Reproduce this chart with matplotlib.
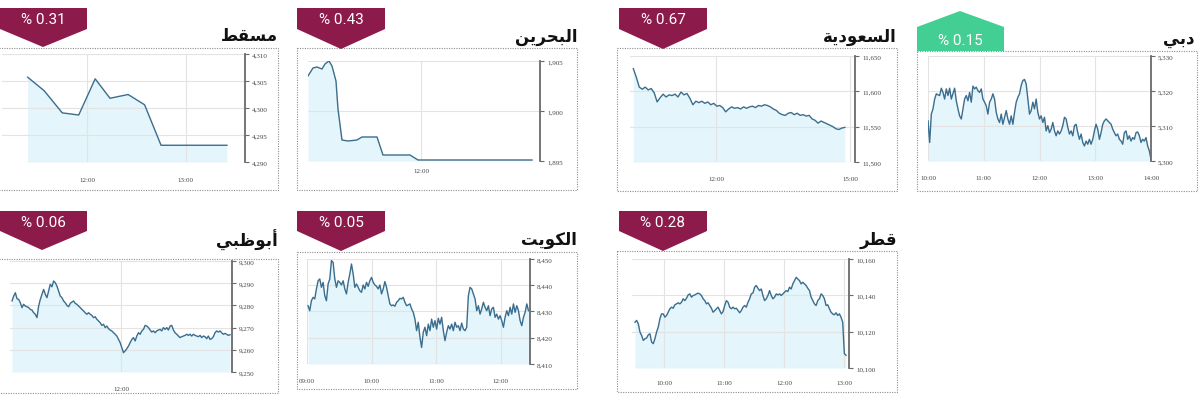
import numpy as np
import matplotlib.pyplot as plt
from matplotlib.patches import Polygon, Rectangle

W, H = 1200, 410

# ---------------- data ----------------
names = ["مسقط", "البحرين", "السعودية", "دبي", "أبوظبي", "الكويت", "قطر"]
changes = [0.31, 0.43, 0.67, 0.15, 0.06, 0.05, 0.28]
is_up = [False, False, False, True, False, False, False]

muscat_times = ["11:24", "11:34", "11:45", "11:55", "12:05", "12:14", "12:25", "12:35", "12:45", "13:25"]
muscat_vals = [4305.7, 4303.2, 4299.1, 4298.7, 4305.4, 4301.8, 4302.5, 4300.6, 4293.1, 4293.1]
muscat_yticks = [4290, 4295, 4300, 4305, 4310]
muscat_xticks = ["12:00", "13:00"]

bahrain_times = ["10:07", "10:12", "10:16", "10:21", "10:24", "10:28", "10:31", "10:35", "10:37",
                 "10:41", "10:47", "10:56", "11:01", "11:16", "11:22", "11:49", "11:57", "13:51"]
bahrain_vals = [1903.5, 1904.3, 1904.4, 1904.2, 1904.7, 1905.0, 1904.5, 1903.0, 1900.2,
                1897.1, 1897.0, 1897.1, 1897.4, 1897.4, 1895.6, 1895.6, 1895.1, 1895.1]
bahrain_yticks = [1895, 1900, 1905]
bahrain_xticks = ["12:00"]

# sampled evenly between first and last time
saudi_span = ("10:09", "14:53")
saudi_vals = [11632, 11620, 11606, 11603, 11606, 11602, 11604, 11598, 11585, 11591, 11596, 11592,
              11595, 11594, 11596, 11592, 11599, 11595, 11597, 11590, 11581, 11586, 11584, 11586,
              11583, 11585, 11581, 11583, 11579, 11580, 11577, 11571, 11575, 11578, 11576, 11577,
              11575, 11578, 11576, 11578, 11579, 11577, 11580, 11579, 11581, 11580, 11578, 11575,
              11573, 11569, 11567, 11566, 11569, 11570, 11567, 11569, 11566, 11567, 11565, 11566,
              11561, 11559, 11555, 11558, 11556, 11554, 11552, 11550, 11547, 11546, 11548, 11549]
saudi_yticks = [11500, 11550, 11600, 11650]
saudi_xticks = ["12:00", "15:00"]

dubai_span = ("10:00", "14:00")
dubai_vals = [5311.5, 5305.3, 5313.4, 5314.9, 5317.7, 5319.2, 5318.9, 5318.7, 5320.8, 5319.6,
              5317.7, 5320.6, 5318.7, 5320.8, 5317.7, 5319.2, 5320.8, 5317.2, 5314.9, 5312.9,
              5312.0, 5314.9, 5317.7, 5318.7, 5317.2, 5319.6, 5316.8, 5321.4, 5320.6, 5321.1,
              5320.1, 5319.6, 5320.6, 5317.7, 5316.8, 5315.8, 5313.4, 5316.8, 5317.7, 5319.2,
              5317.7, 5313.9, 5312.0, 5311.0, 5313.4, 5310.5, 5312.5, 5314.4, 5312.0, 5310.5,
              5312.9, 5310.5, 5313.9, 5316.8, 5318.2, 5319.2, 5321.6, 5323.0, 5323.3, 5322.0,
              5317.7, 5313.4, 5314.4, 5316.8, 5314.9, 5317.7, 5313.9, 5312.0, 5312.9, 5311.0,
              5312.5, 5308.6, 5310.1, 5308.1, 5309.1, 5311.0, 5308.6, 5307.2, 5308.6, 5307.7,
              5308.6, 5310.1, 5312.5, 5312.0, 5309.6, 5307.7, 5308.6, 5307.2, 5310.1, 5310.5,
              5308.1, 5306.2, 5307.7, 5305.3, 5304.3, 5305.7, 5304.8, 5306.2, 5304.8, 5306.2,
              5308.6, 5310.5, 5309.1, 5306.2, 5308.1, 5310.5, 5311.5, 5312.0, 5311.5, 5311.0,
              5310.5, 5309.1, 5308.1, 5307.2, 5307.7, 5306.2, 5305.7, 5304.8, 5308.1, 5308.6,
              5306.2, 5307.2, 5305.7, 5306.7, 5306.2, 5308.1, 5308.3, 5307.2, 5305.3, 5306.2,
              5305.7, 5306.7, 5304.3, 5302.9, 5300.5]
dubai_yticks = [5300, 5310, 5320, 5330]
dubai_xticks = ["10:00", "11:00", "12:00", "13:00", "14:00"]

abudhabi_span = ("10:00", "14:00")
abudhabi_vals = [9282.0, 9284.2, 9285.7, 9283.0, 9282.7, 9281.2, 9279.0, 9280.5, 9279.7, 9279.4,
                 9279.0, 9278.2, 9277.9, 9276.7, 9276.0, 9274.5, 9279.7, 9282.7, 9285.0, 9287.2,
                 9285.0, 9283.5, 9286.5, 9289.5, 9288.4, 9291.0, 9290.2, 9288.7, 9286.5, 9284.2,
                 9283.5, 9282.0, 9281.2, 9280.0, 9279.4, 9280.9, 9281.5, 9282.0, 9280.9, 9280.5,
                 9279.7, 9279.0, 9278.2, 9277.5, 9276.7, 9276.0, 9276.7, 9276.0, 9275.5, 9274.5,
                 9274.9, 9273.7, 9273.0, 9272.2, 9271.0, 9271.5, 9270.0, 9270.7, 9269.5, 9268.9,
                 9268.5, 9267.7, 9267.0, 9266.2, 9264.7, 9263.2, 9261.0, 9258.7, 9259.5, 9260.5,
                 9261.7, 9263.2, 9264.7, 9265.5, 9264.0, 9266.2, 9267.7, 9267.0, 9268.5, 9269.2,
                 9271.0, 9270.7, 9270.0, 9268.9, 9268.0, 9268.5, 9267.7, 9268.5, 9268.9, 9269.2,
                 9268.5, 9270.0, 9269.2, 9270.0, 9268.9, 9270.7, 9271.0, 9268.9, 9267.7, 9267.0,
                 9266.2, 9265.5, 9265.9, 9266.2, 9266.5, 9267.0, 9266.5, 9267.0, 9266.2, 9267.0,
                 9266.5, 9266.2, 9265.9, 9266.5, 9265.5, 9266.2, 9265.9, 9265.0, 9266.2, 9264.7,
                 9265.0, 9265.9, 9267.7, 9268.5, 9268.0, 9268.5, 9267.7, 9267.0, 9267.4, 9267.0,
                 9266.5, 9266.8]
abudhabi_yticks = [9250, 9260, 9270, 9280, 9290, 9300]
abudhabi_xticks = ["12:00"]

kuwait_span = ("09:01", "12:26")
kuwait_vals = [8432.2, 8430.3, 8434.1, 8435.4, 8434.8, 8438.6, 8441.7, 8442.4, 8439.2, 8441.1,
               8436.0, 8434.1, 8440.5, 8442.4, 8449.4, 8448.7, 8442.4, 8439.2, 8441.7, 8441.1,
               8440.1, 8441.7, 8438.6, 8436.7, 8441.1, 8444.3, 8448.1, 8444.3, 8439.2, 8440.5,
               8439.2, 8437.9, 8437.3, 8440.1, 8438.6, 8441.1, 8439.6, 8441.7, 8443.0, 8441.1,
               8440.1, 8439.6, 8438.6, 8440.1, 8436.7, 8438.6, 8441.4, 8439.2, 8436.0, 8432.9,
               8432.2, 8432.5, 8432.0, 8433.5, 8434.1, 8435.0, 8434.8, 8435.4, 8433.5, 8432.2,
               8432.5, 8432.9, 8431.0, 8429.7, 8427.1, 8422.7, 8425.9, 8420.2, 8416.3, 8422.1,
               8424.0, 8420.8, 8425.2, 8422.7, 8427.1, 8424.0, 8426.5, 8423.3, 8427.4, 8425.2,
               8427.8, 8422.7, 8418.9, 8422.1, 8424.6, 8423.3, 8425.2, 8422.7, 8425.9, 8424.0,
               8424.6, 8422.7, 8425.6, 8423.3, 8422.7, 8424.0, 8436.0, 8439.2, 8438.6, 8436.7,
               8434.8, 8430.3, 8432.2, 8429.0, 8431.0, 8433.5, 8431.6, 8430.3, 8432.2, 8428.4,
               8431.0, 8431.6, 8427.8, 8429.0, 8427.1, 8428.4, 8426.5, 8424.0, 8427.8, 8430.3,
               8428.4, 8431.6, 8429.0, 8432.9, 8429.7, 8432.2, 8430.3, 8426.5, 8424.6, 8427.8,
               8429.7, 8432.9, 8430.3]
kuwait_yticks = [8410, 8420, 8430, 8440, 8450]
kuwait_xticks = ["09:00", "10:00", "11:00", "12:00"]

qatar_span = ("09:31", "13:02")
qatar_vals = [10125.2, 10126.2, 10124.3, 10119.8, 10117.9, 10115.2, 10116.1, 10116.5, 10118.3, 10118.8,
              10114.3, 10113.4, 10116.1, 10119.8, 10122.5, 10127.1, 10129.8, 10129.8, 10128.0, 10128.9,
              10130.7, 10132.6, 10133.5, 10132.9, 10134.8, 10135.3, 10135.9, 10135.3, 10136.2, 10138.1,
              10137.1, 10138.4, 10140.2, 10140.8, 10139.0, 10139.9, 10140.2, 10140.8, 10141.2, 10140.8,
              10139.9, 10138.1, 10137.1, 10135.3, 10135.9, 10134.4, 10132.9, 10130.7, 10131.6, 10132.6,
              10133.5, 10131.6, 10129.8, 10131.1, 10134.4, 10137.1, 10136.2, 10133.5, 10132.6, 10133.5,
              10132.6, 10132.9, 10131.6, 10130.4, 10131.6, 10133.5, 10134.4, 10133.5, 10136.2, 10138.1,
              10140.8, 10141.3, 10144.5, 10145.4, 10143.9, 10142.6, 10143.5, 10139.9, 10137.1, 10138.1,
              10139.9, 10142.6, 10139.9, 10138.1, 10139.0, 10140.8, 10140.2, 10140.8, 10139.9, 10140.8,
              10141.7, 10142.6, 10142.1, 10144.5, 10143.5, 10146.3, 10148.1, 10149.9, 10149.0, 10148.1,
              10146.3, 10147.2, 10146.3, 10145.4, 10143.9, 10142.6, 10139.0, 10137.1, 10135.3, 10134.4,
              10137.1, 10138.1, 10140.8, 10139.9, 10138.1, 10134.4, 10134.8, 10132.6, 10130.7, 10129.8,
              10129.3, 10130.4, 10128.9, 10129.8, 10128.0, 10125.2, 10107.9, 10107.0]
qatar_yticks = [10100, 10120, 10140, 10160]
qatar_xticks = ["10:00", "11:00", "12:00", "13:00"]


def hours(s):
    h, m = s.split(":")
    return int(h) + int(m) / 60.0


def even_times(span, vals):
    return np.linspace(hours(span[0]), hours(span[1]), len(vals))


# letter: (isolated, final, initial, medial); no initial form => does not join the next letter
AR_FORMS = {
    "ا": ("\ufe8d", "\ufe8e", None, None),
    "أ": ("\ufe83", "\ufe84", None, None),
    "ب": ("\ufe8f", "\ufe90", "\ufe91", "\ufe92"),
    "ت": ("\ufe95", "\ufe96", "\ufe97", "\ufe98"),
    "ح": ("\ufea1", "\ufea2", "\ufea3", "\ufea4"),
    "د": ("\ufea9", "\ufeaa", None, None),
    "ر": ("\ufead", "\ufeae", None, None),
    "س": ("\ufeb1", "\ufeb2", "\ufeb3", "\ufeb4"),
    "ط": ("\ufec1", "\ufec2", "\ufec3", "\ufec4"),
    "ظ": ("\ufec5", "\ufec6", "\ufec7", "\ufec8"),
    "ع": ("\ufec9", "\ufeca", "\ufecb", "\ufecc"),
    "ق": ("\ufed5", "\ufed6", "\ufed7", "\ufed8"),
    "ك": ("\ufed9", "\ufeda", "\ufedb", "\ufedc"),
    "ل": ("\ufedd", "\ufede", "\ufedf", "\ufee0"),
    "م": ("\ufee1", "\ufee2", "\ufee3", "\ufee4"),
    "ن": ("\ufee5", "\ufee6", "\ufee7", "\ufee8"),
    "ة": ("\ufe93", "\ufe94", None, None),
    "و": ("\ufeed", "\ufeee", None, None),
    "ي": ("\ufef1", "\ufef2", "\ufef3", "\ufef4"),
}


def shape_ar(word):
    # matplotlib has no arabic shaping, so pick contextual forms and write in visual order
    out = []
    for i, ch in enumerate(word):
        iso, fin, ini, med = AR_FORMS[ch]
        prev_joins = i > 0 and AR_FORMS[word[i - 1]][2] is not None
        next_joins = i < len(word) - 1 and ini is not None
        if prev_joins and next_joins:
            out.append(med)
        elif prev_joins:
            out.append(fin)
        elif next_joins:
            out.append(ini)
        else:
            out.append(iso)
    return "".join(reversed(out))


# ---------------- layout (pixels) ----------------
series = [
    ([hours(t) for t in muscat_times], muscat_vals, muscat_yticks, muscat_xticks),
    ([hours(t) for t in bahrain_times], bahrain_vals, bahrain_yticks, bahrain_xticks),
    (even_times(saudi_span, saudi_vals), saudi_vals, saudi_yticks, saudi_xticks),
    (even_times(dubai_span, dubai_vals), dubai_vals, dubai_yticks, dubai_xticks),
    (even_times(abudhabi_span, abudhabi_vals), abudhabi_vals, abudhabi_yticks, abudhabi_xticks),
    (even_times(kuwait_span, kuwait_vals), kuwait_vals, kuwait_yticks, kuwait_xticks),
    (even_times(qatar_span, qatar_vals), qatar_vals, qatar_yticks, qatar_xticks),
]

# axes box (l, r, t, b), xlim, frame box (l, r, t, b), badge (l, r, top, shoulder, tip_x, tip_y), title (x, y), xlabel pad
layout = [
    dict(ax=(2, 245, 55, 163), xlim=(11.14, 13.60), box=(-2, 278, 49, 191),
         badge=(0, 87, 9, 30, 43, 48), title=(278, 36), pad=11),
    dict(ax=(308, 540, 62, 162), xlim=(10.117, 13.983), box=(297, 577, 49, 191),
         badge=(297, 385, 9, 30, 341, 50), title=(577, 37), pad=5),
    dict(ax=(630, 855, 57, 163), xlim=(10.076, 15.11), box=(617, 897, 49, 192),
         badge=(619, 707, 9, 30, 663, 50), title=(897, 37), pad=10),
    dict(ax=(928, 1151, 57, 162), xlim=(10.0, 14.0), box=(917, 1197, 52, 192),
         badge=(917, 1004, 52, 28, 960, 12), title=(1195, 39), pad=10),
    dict(ax=(10, 232, 262, 373), xlim=(9.963, 14.037), box=(-2, 278, 260, 394),
         badge=(0, 87, 212, 232, 42, 251), title=(278, 240), pad=10),
    dict(ax=(307, 530, 260, 365), xlim=(9.0, 12.457), box=(297, 577, 253, 390),
         badge=(297, 385, 212, 232, 341, 252), title=(577, 240), pad=10),
    dict(ax=(632, 849, 260, 369), xlim=(9.467, 13.083), box=(617, 897, 252, 393),
         badge=(619, 707, 212, 232, 663, 252), title=(897, 240), pad=9),
]

LINE = "#3a6d8e"
FILL = "#e4f5fb"
GRID = "#e3e3e3"
SPINE = "#6a6a6a"
MAROON = "#8c1b4c"
GREEN = "#43cf93"

fig = plt.figure(figsize=(W / 100, H / 100), dpi=100)
fig.patch.set_facecolor("white")

over = fig.add_axes([0, 0, 1, 1])
over.set_xlim(0, W)
over.set_ylim(H, 0)
over.axis("off")


def frac(l, r, t, b):
    return [l / W, 1 - b / H, (r - l) / W, (b - t) / H]


for i, ((tt, vals, yt, xt_labels), lay) in enumerate(zip(series, layout)):
    # dotted frame
    bl, br, bt, bb = lay["box"]
    over.add_patch(Rectangle((bl, bt), br - bl, bb - bt, fill=False, ec="#8f8f8f",
                             lw=0.8, ls=(0, (1, 1.2))))

    # badge
    x0, x1, top, sh, tx, ty = lay["badge"]
    pts = [(x0, top), (x1, top), (x1, sh), (tx, ty), (x0, sh)]
    over.add_patch(Polygon(pts, closed=True, fc=GREEN if is_up[i] else MAROON, ec="none"))
    over.text((x0 + x1) / 2, (top + sh) / 2 + 1, f"% {changes[i]:.2f}", color="white",
              fontsize=11, family="Roboto", ha="center", va="center")

    # title
    over.text(lay["title"][0], lay["title"][1], shape_ar(names[i]), fontsize=12,
              fontweight="bold", family="DejaVu Sans", ha="right", va="center", color="#111111")

    ax = fig.add_axes(frac(*lay["ax"]))
    ax.set_facecolor("none")
    ax.fill_between(tt, vals, yt[0], color=FILL, lw=0, zorder=0.3)
    ax.plot(tt, vals, color=LINE, lw=1.0, zorder=2)
    ax.set_xlim(*lay["xlim"])
    ax.set_ylim(yt[0], yt[-1])
    ax.set_yticks(yt)
    ax.set_yticklabels([f"{v:,}" for v in yt])
    ax.set_xticks([hours(s) for s in xt_labels])
    ax.set_xticklabels(xt_labels)
    ax.yaxis.tick_right()
    for s in ["left", "top", "bottom"]:
        ax.spines[s].set_visible(False)
    ax.spines["right"].set_color(SPINE)
    ax.spines["right"].set_linewidth(1.3)
    ax.tick_params(axis="y", direction="out", length=3, width=0.8, color=SPINE,
                   labelsize=5, labelcolor="#444444", pad=2)
    ax.tick_params(axis="x", length=0, labelsize=5, labelcolor="#444444", pad=lay["pad"])
    for lab in ax.get_xticklabels() + ax.get_yticklabels():
        lab.set_family("Liberation Serif")
    ax.grid(True, color=GRID, lw=0.8)
    ax.set_axisbelow(True)

fig.savefig("out.png", dpi=100, facecolor="white")
